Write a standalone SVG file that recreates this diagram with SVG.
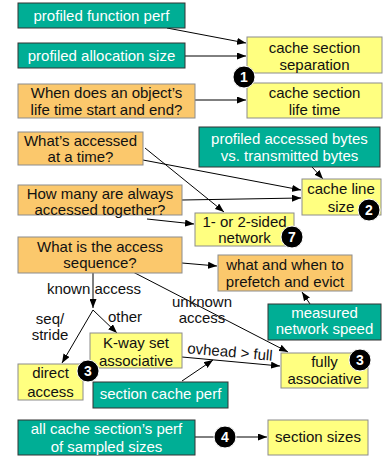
<svg xmlns="http://www.w3.org/2000/svg" width="385" height="458" viewBox="0 0 385 458">
<style>
.teal{fill:#00AE95;stroke:#333;stroke-width:1}
.org{fill:#FBC86C;stroke:#8c8c8c;stroke-width:1}
.yel{fill:#FFFF80;stroke:#8c8c8c;stroke-width:1}
text{font-family:"Liberation Sans",Arial,sans-serif;font-size:15px;text-anchor:middle;fill:#111}
.w{fill:#fff}
.c{fill:none;stroke:#000;stroke-width:1}
.b circle{fill:#000;stroke:#fff;stroke-width:1}
.b text{fill:#fff;font-weight:bold;font-size:14px}
</style>
<defs>
<marker id="ah" markerWidth="9" markerHeight="7" refX="9" refY="3.5" orient="auto" markerUnits="userSpaceOnUse">
<path d="M0,0 L9,3.5 L0,7 z" fill="#000"/>
</marker>
</defs>
<g id="connectors">
<line class="c" x1="167" y1="28" x2="246" y2="43" marker-end="url(#ah)"/>
<line class="c" x1="185" y1="56" x2="246" y2="56" marker-end="url(#ah)"/>
<line class="c" x1="195" y1="100" x2="246" y2="100" marker-end="url(#ah)"/>
<line class="c" x1="143" y1="160" x2="301" y2="190" marker-end="url(#ah)"/>
<line class="c" x1="145" y1="148" x2="224" y2="212" marker-end="url(#ah)"/>
<line class="c" x1="312" y1="167" x2="323" y2="179" marker-end="url(#ah)"/>
<line class="c" x1="182" y1="200" x2="301" y2="198" marker-end="url(#ah)"/>
<line class="c" x1="147" y1="219" x2="194" y2="224" marker-end="url(#ah)"/>
<line class="c" x1="182" y1="263" x2="217" y2="266" marker-end="url(#ah)"/>
<line class="c" x1="310" y1="304" x2="302" y2="292" marker-end="url(#ah)"/>
<line class="c" x1="93" y1="273" x2="93" y2="308" marker-end="url(#ah)"/>
<line class="c" x1="93" y1="310" x2="117" y2="333" marker-end="url(#ah)"/>
<line class="c" x1="93" y1="310" x2="62" y2="363" marker-end="url(#ah)"/>
<line class="c" x1="133" y1="272" x2="288" y2="352" marker-end="url(#ah)"/>
<line class="c" x1="182" y1="357" x2="280" y2="366" marker-end="url(#ah)"/>
<line class="c" x1="182" y1="381" x2="213" y2="360" marker-end="url(#ah)"/>
<line class="c" x1="195" y1="437" x2="267" y2="437" marker-end="url(#ah)"/>
<text x="94" y="294">known access</text>
<text x="50" y="324">seq/</text>
<text x="50" y="340">stride</text>
<text x="125" y="322">other</text>
<text x="202" y="307">unknown</text>
<text x="202" y="323">access</text>
<text x="230" y="357" transform="rotate(5 230 352)">ovhead &gt; full</text>
</g>
<g id="n_pfp"><rect class="teal" x="18" y="3" width="167" height="25"/><text class="w" x="101.5" y="21">profiled function perf</text></g>
<g id="n_pas"><rect class="teal" x="18" y="43" width="167" height="25"/><text class="w" x="101.5" y="61">profiled allocation size</text></g>
<g id="n_lifeq"><rect class="org" x="18" y="84" width="177" height="34"/><text x="106.5" y="98">When does an object’s</text><text x="106.5" y="115">life time start and end?</text></g>
<g id="n_sep"><rect class="yel" x="247" y="37" width="135" height="36"/><text x="314.5" y="53">cache section</text><text x="314.5" y="70">separation</text></g>
<g id="n_life"><rect class="yel" x="247" y="83" width="135" height="35"/><text x="314.5" y="98">cache section</text><text x="314.5" y="115">life time</text></g>
<g id="n_whattime"><rect class="org" x="18" y="132" width="125" height="33"/><text x="80.5" y="146">What’s accessed</text><text x="80.5" y="162">at a time?</text></g>
<g id="n_pab"><rect class="teal" x="199" y="127" width="181" height="40"/><text class="w" x="289.5" y="144">profiled accessed bytes</text><text class="w" x="289.5" y="161">vs. transmitted bytes</text></g>
<g id="n_line"><rect class="yel" x="302" y="179" width="79" height="36"/><text x="341" y="194">cache line</text><text x="341" y="212">size</text></g>
<g id="n_many"><rect class="org" x="18" y="185" width="164" height="30"/><text x="100" y="199">How many are always</text><text x="100" y="215">accessed together?</text></g>
<g id="n_net"><rect class="yel" x="195" y="213" width="99" height="33"/><text x="244.5" y="227">1- or 2-sided</text><text x="244.5" y="243">network</text></g>
<g id="n_seq"><rect class="org" x="18" y="237" width="164" height="36"/><text x="100" y="252">What is the access</text><text x="100" y="268">sequence?</text></g>
<g id="n_pref"><rect class="org" x="218" y="255" width="134" height="36"/><text x="285" y="270">what and when to</text><text x="285" y="287">prefetch and evict</text></g>
<g id="n_mns"><rect class="teal" x="268" y="304" width="113" height="36"/><text class="w" x="324.5" y="318">measured</text><text class="w" x="324.5" y="334">network speed</text></g>
<g id="n_kway"><rect class="yel" x="90" y="333" width="92" height="35"/><text x="136" y="348">K-way set</text><text x="136" y="366">associative</text></g>
<g id="n_direct"><rect class="yel" x="18" y="364" width="65" height="36"/><text x="50.5" y="378">direct</text><text x="50.5" y="397">access</text></g>
<g id="n_scp"><rect class="teal" x="93" y="382" width="135" height="26"/><text class="w" x="160.5" y="399">section cache perf</text></g>
<g id="n_full"><rect class="yel" x="281" y="353" width="87" height="35"/><text x="324.5" y="367">fully</text><text x="324.5" y="384">associative</text></g>
<g id="n_all"><rect class="teal" x="18" y="420" width="177" height="35"/><text class="w" x="106.5" y="434">all cache section’s perf</text><text class="w" x="106.5" y="452">of sampled sizes</text></g>
<g id="n_sizes"><rect class="yel" x="268" y="420" width="100" height="35"/><text x="318" y="442">section sizes</text></g>
<g id="badges" class="b">
<g id="b1"><circle cx="244" cy="77" r="11"/><text x="244" y="82">1</text></g>
<g id="b2"><circle cx="369" cy="210" r="11"/><text x="369" y="215">2</text></g>
<g id="b7"><circle cx="292" cy="237" r="11"/><text x="292" y="242">7</text></g>
<g id="b3a"><circle cx="88" cy="371" r="11"/><text x="88" y="376">3</text></g>
<g id="b3b"><circle cx="360" cy="360" r="11"/><text x="360" y="365">3</text></g>
<g id="b4"><circle cx="225" cy="437" r="11"/><text x="225" y="442">4</text></g>
</g>
</svg>
